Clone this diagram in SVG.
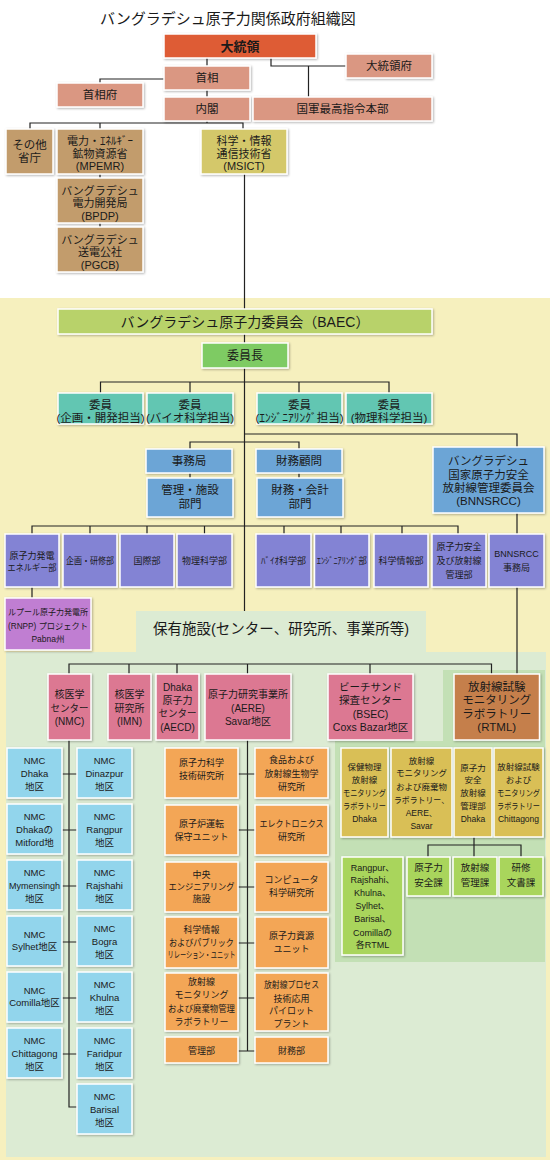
<svg xmlns="http://www.w3.org/2000/svg" width="550" height="1160" viewBox="0 0 550 1160">
<defs>
<filter id="sh" x="-10%" y="-10%" width="130%" height="130%"><feDropShadow dx="1" dy="1" stdDeviation="0.8" flood-color="#000" flood-opacity="0.3"/></filter>
<style>
.n{stroke:#fff;stroke-width:1.5;filter:url(#sh)}
text{font-family:"Liberation Sans","Noto Sans CJK JP","Noto Sans CJK SC",sans-serif;text-anchor:middle;fill:#1a1a1a}
.c{fill:none;stroke:#222;stroke-width:1.2}
.f85{font-size:8.5px}.f9{font-size:9px}.f95{font-size:9.5px}.f10{font-size:10px}.f105{font-size:10.5px}
.f11{font-size:11px}.f115{font-size:11.5px}.f12{font-size:12px}.f13{font-size:13px}.f14{font-size:14px}
.red{fill:#DE5B35}.sal{fill:#DA9782}.tan{fill:#C29C6C}.ms{fill:#D4C86A}.baec{fill:#B8D26A}.chair{fill:#7ECB63}
.teal{fill:#62C6B2}.blue{fill:#6CA5D6}.pur{fill:#8383D4}.orc{fill:#C07ED2}.pink{fill:#DC7892}.brn{fill:#C57F4B}
.lb{fill:#92D5EC}.org{fill:#F3A656}.gold{fill:#D9BF57}.lime{fill:#A9D55B}
</style>
</defs>
<rect width="550" height="1160" fill="#fff"/>
<g id="backgrounds">
<rect x="0" y="298" width="550" height="862" fill="#F6F0BE"/>
<rect x="6" y="652" width="540" height="505" fill="#DCEBD3"/>
<rect x="136" y="611" width="290" height="42" fill="#DCEBD3"/>
<path d="M443,670H545V962H335V741H443Z" fill="#C3E0B5"/>
</g>
<text x="228" y="24" style="font-size:15px">バングラデシュ原子力関係政府組織図</text>
<g id="connectors" class="c">
<path d="M207,58V66M207,90V97M164,79H100V83M271,58V66H346M308.5,66V97"/>
<path d="M207,121V123M30,129V123H243V129M100,123V129M100,174V178M100,223V227"/>
<path d="M244.5,174V309M244.5,334V343M244.5,368V611"/>
<path d="M100.5,393V382H389V393M190,382V393M299,382V393"/>
<path d="M190,449V442H299V449M190,473V478M299,473V478"/>
<path d="M244.5,434H517V447M517,513V534M517,587V674"/>
<path d="M32,534V526H458V534M90,526V534M147,526V534M204.5,526V534M284,526V534M341,526V534M402,526V534M32,587V598"/>
<path d="M69,674V664H491.5V674M129,664V674M177,664V674M247.5,664V674M370,664V674"/>
<path d="M69,740V1107H77M62,774H77M62,830H77M62,886H77M62,942H77M62,998H77M62,1054H77"/>
<path d="M247.5,740V1051M238,774H255M238,830H255M238,887H255M238,943H255M238,998H255M238,1051H255"/>
<path d="M474,837V857M428,857V845H521V857"/>
</g>
<g id="president"><rect class="n red" x="164" y="34" width="152" height="24"/><text class="f13" x="240" y="50.7" font-weight="bold">大統領</text></g>
<g id="pres-office"><rect class="n sal" x="346" y="54" width="86" height="24"/><text class="f115" x="389" y="70.1">大統領府</text></g>
<g id="pm"><rect class="n sal" x="164" y="66" width="86" height="24"/><text class="f115" x="207" y="82.1">首相</text></g>
<g id="pm-office"><rect class="n sal" x="57" y="83" width="86" height="24"/><text class="f115" x="100" y="99.1">首相府</text></g>
<g id="cabinet"><rect class="n sal" x="164" y="97" width="86" height="24"/><text class="f115" x="207" y="113.1">内閣</text></g>
<g id="armed"><rect class="n sal" x="253" y="97" width="179" height="24"/><text class="f115" x="342.5" y="113.1">国軍最高指令本部</text></g>

<g id="other"><rect class="n tan" x="6" y="129" width="47" height="45"/><text class="f115"><tspan x="29.5" y="149">その他</tspan><tspan x="29.5" y="162">省庁</tspan></text></g>
<g id="mpemr"><rect class="n tan" x="57" y="129" width="86" height="45"/><text class="f11"><tspan x="100" y="145">電力・ｴﾈﾙｷﾞｰ</tspan><tspan x="100" y="157.5">鉱物資源省</tspan><tspan x="100" y="170">(MPEMR)</tspan></text></g>
<g id="bpdp"><rect class="n tan" x="57" y="178" width="86" height="45"/><text class="f11"><tspan x="100" y="194.5">バングラデシュ</tspan><tspan x="100" y="207">電力開発局</tspan><tspan x="100" y="219.5">(BPDP)</tspan></text></g>
<g id="pgcb"><rect class="n tan" x="57" y="227" width="86" height="45"/><text class="f11"><tspan x="100" y="243.5">バングラデシュ</tspan><tspan x="100" y="256">送電公社</tspan><tspan x="100" y="268.5">(PGCB)</tspan></text></g>
<g id="msict"><rect class="n ms" x="201" y="129" width="86" height="45"/><text class="f11"><tspan x="244" y="145">科学・情報</tspan><tspan x="244" y="157.5">通信技術省</tspan><tspan x="244" y="170">(MSICT)</tspan></text></g>

<g id="baec"><rect class="n baec" x="58" y="309" width="374" height="25"/><text class="f14" x="245" y="326.5">バングラデシュ原子力委員会（BAEC）</text></g>
<g id="chair"><rect class="n chair" x="202" y="343" width="86" height="25"/><text class="f12" x="245" y="359.8">委員長</text></g>
<g id="m1"><rect class="n teal" x="58" y="393" width="85" height="31"/><text class="f115"><tspan x="100.5" y="409.1">委員</tspan><tspan x="100.5" y="422.1">(企画・開発担当)</tspan></text></g>
<g id="m2"><rect class="n teal" x="147" y="393" width="86" height="31"/><text class="f115"><tspan x="190" y="409.1">委員</tspan><tspan x="190" y="422.1">(バイオ科学担当)</tspan></text></g>
<g id="m3"><rect class="n teal" x="257" y="393" width="85" height="31"/><text class="f115"><tspan x="299.5" y="409.1">委員</tspan><tspan x="299.5" y="422.1">(ｴﾝｼﾞﾆｱﾘﾝｸﾞ担当)</tspan></text></g>
<g id="m4"><rect class="n teal" x="346" y="393" width="86" height="31"/><text class="f115"><tspan x="389" y="409.1">委員</tspan><tspan x="389" y="422.1">(物理科学担当)</tspan></text></g>

<g id="secretariat"><rect class="n blue" x="146" y="449" width="86" height="24"/><text class="f115" x="189" y="465.1">事務局</text></g>
<g id="admin"><rect class="n blue" x="147" y="478" width="86" height="39"/><text class="f115"><tspan x="190" y="494.1">管理・施設</tspan><tspan x="190" y="508.1">部門</tspan></text></g>
<g id="finadv"><rect class="n blue" x="256" y="449" width="86" height="24"/><text class="f115" x="299" y="465.1">財務顧問</text></g>
<g id="finance"><rect class="n blue" x="257" y="478" width="86" height="39"/><text class="f115"><tspan x="300" y="494.1">財務・会計</tspan><tspan x="300" y="508.1">部門</tspan></text></g>
<g id="bnnsrcc"><rect class="n blue" x="433" y="447" width="111" height="66"/><text class="f115"><tspan x="488.5" y="465.1">バングラデシュ</tspan><tspan x="488.5" y="479.1">国家原子力安全</tspan><tspan x="488.5" y="492.1">放射線管理委員会</tspan><tspan x="488.5" y="505.1">(BNNSRCC)</tspan></text></g>

<g id="d1"><rect class="n pur" x="5" y="534" width="54" height="53"/><text class="f9"><tspan x="32" y="559.2">原子力発電</tspan><tspan x="32" y="571.2" textLength="49" lengthAdjust="spacingAndGlyphs">エネルギー部</tspan></text></g>
<g id="d2"><rect class="n pur" x="63" y="534" width="54" height="53"/><text class="f9" x="90" y="563.7" textLength="48" lengthAdjust="spacingAndGlyphs">企画・研修部</text></g>
<g id="d3"><rect class="n pur" x="120" y="534" width="54" height="53"/><text class="f9" x="147" y="563.7">国際部</text></g>
<g id="d4"><rect class="n pur" x="177" y="534" width="55" height="53"/><text class="f9" x="204.5" y="563.7">物理科学部</text></g>
<g id="d5"><rect class="n pur" x="256" y="534" width="55" height="53"/><text class="f9" x="283.5" y="563.7">ﾊﾞｲｵ科学部</text></g>
<g id="d6"><rect class="n pur" x="314.5" y="534" width="54.5" height="53"/><text class="f9" x="341.75" y="563.7" textLength="50" lengthAdjust="spacingAndGlyphs">ｴﾝｼﾞﾆｱﾘﾝｸﾞ部</text></g>
<g id="d7"><rect class="n pur" x="374" y="534" width="54" height="53"/><text class="f9" x="401" y="563.7">科学情報部</text></g>
<g id="d8"><rect class="n pur" x="432" y="534" width="54" height="53"/><text class="f9"><tspan x="459" y="549.6">原子力安全</tspan><tspan x="459" y="564.2">及び放射線</tspan><tspan x="459" y="578.2">管理部</tspan></text></g>
<g id="d9"><rect class="n pur" x="489" y="534" width="55" height="53"/><text class="f9"><tspan x="516.5" y="556.7">BNNSRCC</tspan><tspan x="516.5" y="570.8">事務局</tspan></text></g>
<g id="rnpp"><rect class="n orc" x="5" y="598" width="86" height="52"/><text class="f85"><tspan x="48" y="615.1" textLength="80" lengthAdjust="spacingAndGlyphs">ルプール原子力発電所</tspan><tspan x="48" y="629.1" textLength="80" lengthAdjust="spacingAndGlyphs">(RNPP) プロジェクト</tspan><tspan x="48" y="642.1">Pabna州</tspan></text></g>

<g id="facilities-label"><text style="font-size:14.5px" x="281" y="634.2">保有施設(センター、研究所、事業所等)</text></g>

<g id="nmc"><rect class="n pink" x="48" y="674" width="43" height="66"/><text class="f10"><tspan x="69.5" y="698.3">核医学</tspan><tspan x="69.5" y="711.6" textLength="38" lengthAdjust="spacingAndGlyphs">センター</tspan><tspan x="69.5" y="724.6">(NMC)</tspan></text></g>
<g id="imn"><rect class="n pink" x="108" y="674" width="43" height="66"/><text class="f10"><tspan x="129.5" y="698.3">核医学</tspan><tspan x="129.5" y="711.6">研究所</tspan><tspan x="129.5" y="724.6">(IMN)</tspan></text></g>
<g id="aecd"><rect class="n pink" x="156" y="674" width="43" height="66"/><text class="f10"><tspan x="177.5" y="690.6">Dhaka</tspan><tspan x="177.5" y="703.6">原子力</tspan><tspan x="177.5" y="717.3" textLength="38" lengthAdjust="spacingAndGlyphs">センター</tspan><tspan x="177.5" y="730.6">(AECD)</tspan></text></g>
<g id="aere"><rect class="n pink" x="205" y="674" width="86" height="66"/><text class="f10"><tspan x="248" y="698.3">原子力研究事業所</tspan><tspan x="248" y="711.6">(AERE)</tspan><tspan x="248" y="724.6">Savar地区</tspan></text></g>
<g id="bsec"><rect class="n pink" x="328" y="674" width="85" height="66"/><text class="f105"><tspan x="370.5" y="690.8">ビーチサンド</tspan><tspan x="370.5" y="703.8">探査センター</tspan><tspan x="370.5" y="717.5">(BSEC)</tspan><tspan x="370.5" y="730.8">Coxs Bazar地区</tspan></text></g>
<g id="rtml"><rect class="n brn" x="454" y="674" width="85.5" height="66"/><text class="f115"><tspan x="496.75" y="691.1">放射線試験</tspan><tspan x="496.75" y="704.1">モニタリング</tspan><tspan x="496.75" y="717.8">ラボラトリー</tspan><tspan x="496.75" y="731.1">(RTML)</tspan></text></g>

<g id="nmc-dhaka"><rect class="n lb" x="7" y="748" width="55" height="50"/><text class="f95"><tspan x="34.5" y="764.1">NMC</tspan><tspan x="34.5" y="777.1">Dhaka</tspan><tspan x="34.5" y="790.1">地区</tspan></text></g>
<g id="nmc-mitford"><rect class="n lb" x="7" y="804" width="55" height="50"/><text class="f95"><tspan x="34.5" y="820.1">NMC</tspan><tspan x="34.5" y="833.1">Dhakaの</tspan><tspan x="34.5" y="846.1">Mitford地</tspan></text></g>
<g id="nmc-mymensingh"><rect class="n lb" x="7" y="860" width="55" height="50"/><text class="f95"><tspan x="34.5" y="876.1">NMC</tspan><tspan x="34.5" y="889.1" textLength="51" lengthAdjust="spacingAndGlyphs">Mymensingh</tspan><tspan x="34.5" y="902.1">地区</tspan></text></g>
<g id="nmc-sylhet"><rect class="n lb" x="7" y="916" width="55" height="50"/><text class="f95"><tspan x="34.5" y="937.9">NMC</tspan><tspan x="34.5" y="950.4">Sylhet地区</tspan></text></g>
<g id="nmc-comilla"><rect class="n lb" x="7" y="972" width="55" height="50"/><text class="f95"><tspan x="34.5" y="993.9">NMC</tspan><tspan x="34.5" y="1006.4">Comilla地区</tspan></text></g>
<g id="nmc-chittagong"><rect class="n lb" x="7" y="1028" width="55" height="50"/><text class="f95"><tspan x="34.5" y="1044.1">NMC</tspan><tspan x="34.5" y="1057.1">Chittagong</tspan><tspan x="34.5" y="1070.1">地区</tspan></text></g>
<g id="nmc-dinazpur"><rect class="n lb" x="77" y="748" width="55" height="50"/><text class="f95"><tspan x="104.5" y="764.1">NMC</tspan><tspan x="104.5" y="777.1">Dinazpur</tspan><tspan x="104.5" y="790.1">地区</tspan></text></g>
<g id="nmc-rangpur"><rect class="n lb" x="77" y="804" width="55" height="50"/><text class="f95"><tspan x="104.5" y="820.1">NMC</tspan><tspan x="104.5" y="833.1">Rangpur</tspan><tspan x="104.5" y="846.1">地区</tspan></text></g>
<g id="nmc-rajshahi"><rect class="n lb" x="77" y="860" width="55" height="50"/><text class="f95"><tspan x="104.5" y="876.1">NMC</tspan><tspan x="104.5" y="889.1">Rajshahi</tspan><tspan x="104.5" y="902.1">地区</tspan></text></g>
<g id="nmc-bogra"><rect class="n lb" x="77" y="916" width="55" height="50"/><text class="f95"><tspan x="104.5" y="932.1">NMC</tspan><tspan x="104.5" y="945.1">Bogra</tspan><tspan x="104.5" y="958.1">地区</tspan></text></g>
<g id="nmc-khulna"><rect class="n lb" x="77" y="972" width="55" height="50"/><text class="f95"><tspan x="104.5" y="988.1">NMC</tspan><tspan x="104.5" y="1001.1">Khulna</tspan><tspan x="104.5" y="1014.1">地区</tspan></text></g>
<g id="nmc-faridpur"><rect class="n lb" x="77" y="1028" width="55" height="50"/><text class="f95"><tspan x="104.5" y="1044.1">NMC</tspan><tspan x="104.5" y="1057.1">Faridpur</tspan><tspan x="104.5" y="1070.1">地区</tspan></text></g>
<g id="nmc-barisal"><rect class="n lb" x="77" y="1084" width="55" height="50"/><text class="f95"><tspan x="104.5" y="1100.1">NMC</tspan><tspan x="104.5" y="1113.1">Barisal</tspan><tspan x="104.5" y="1126.1">地区</tspan></text></g>

<g id="aere-1"><rect class="n org" x="165" y="748" width="73" height="50"/><text class="f9"><tspan x="201.5" y="765.9">原子力科学</tspan><tspan x="201.5" y="778.9">技術研究所</tspan></text></g>
<g id="aere-2"><rect class="n org" x="165" y="805" width="73" height="50"/><text class="f9"><tspan x="201.5" y="826.5">原子炉運転</tspan><tspan x="201.5" y="839.9">保守ユニット</tspan></text></g>
<g id="aere-3"><rect class="n org" x="165" y="862" width="73" height="50"/><text class="f9"><tspan x="201.5" y="877.5">中央</tspan><tspan x="201.5" y="889.9" textLength="66" lengthAdjust="spacingAndGlyphs">エンジニアリング</tspan><tspan x="201.5" y="902.2">施設</tspan></text></g>
<g id="aere-4"><rect class="n org" x="165" y="917" width="73" height="51"/><text class="f9"><tspan x="201.5" y="933.2">科学情報</tspan><tspan x="201.5" y="945.9" textLength="65" lengthAdjust="spacingAndGlyphs">およびパブリック</tspan><tspan x="201.5" y="958.2" textLength="68" lengthAdjust="spacingAndGlyphs">リレーション・ユニット</tspan></text></g>
<g id="aere-5"><rect class="n org" x="165" y="973" width="73" height="58"/><text class="f9"><tspan x="201.5" y="984.9">放射線</tspan><tspan x="201.5" y="998.2">モニタリング</tspan><tspan x="201.5" y="1011.5" textLength="67" lengthAdjust="spacingAndGlyphs">および廃棄物管理</tspan><tspan x="201.5" y="1024.9">ラボラトリー</tspan></text></g>
<g id="aere-6"><rect class="n org" x="165" y="1037" width="73" height="26"/><text class="f9" x="201.5" y="1054.2">管理部</text></g>
<g id="aere-7"><rect class="n org" x="255" y="748" width="73" height="50"/><text class="f9"><tspan x="291.5" y="763.2">食品および</tspan><tspan x="291.5" y="776.5">放射線生物学</tspan><tspan x="291.5" y="789.9">研究所</tspan></text></g>
<g id="aere-8"><rect class="n org" x="255" y="805" width="73" height="50"/><text class="f9"><tspan x="291.5" y="826.5" textLength="64" lengthAdjust="spacingAndGlyphs">エレクトロニクス</tspan><tspan x="291.5" y="839.9">研究所</tspan></text></g>
<g id="aere-9"><rect class="n org" x="255" y="862" width="73" height="50"/><text class="f9"><tspan x="291.5" y="882.5">コンピュータ</tspan><tspan x="291.5" y="895.9">科学研究所</tspan></text></g>
<g id="aere-10"><rect class="n org" x="255" y="917" width="73" height="51"/><text class="f9"><tspan x="291.5" y="938.9">原子力資源</tspan><tspan x="291.5" y="951.5">ユニット</tspan></text></g>
<g id="aere-11"><rect class="n org" x="255" y="973" width="73" height="58"/><text class="f9"><tspan x="291.5" y="988.2" textLength="55" lengthAdjust="spacingAndGlyphs">放射線プロセス</tspan><tspan x="291.5" y="1001.5">技術応用</tspan><tspan x="291.5" y="1013.9">パイロット</tspan><tspan x="291.5" y="1026.5">プラント</tspan></text></g>
<g id="aere-12"><rect class="n org" x="255" y="1037" width="73" height="26"/><text class="f9" x="291.5" y="1054.2">財務部</text></g>

<g id="rtml-1"><rect class="n gold" x="341" y="748" width="47" height="89"/><text class="f85"><tspan x="364.5" y="769.8">保健物理</tspan><tspan x="364.5" y="783.1">放射線</tspan><tspan x="364.5" y="795.8" textLength="43" lengthAdjust="spacingAndGlyphs">モニタリング</tspan><tspan x="364.5" y="809.1" textLength="43" lengthAdjust="spacingAndGlyphs">ラボラトリー</tspan><tspan x="364.5" y="822.1">Dhaka</tspan></text></g>
<g id="rtml-2"><rect class="n gold" x="391" y="748" width="61" height="89"/><text class="f85"><tspan x="421.5" y="763.8">放射線</tspan><tspan x="421.5" y="776.4">モニタリング</tspan><tspan x="421.5" y="789.8">および廃棄物</tspan><tspan x="421.5" y="803.1" textLength="55" lengthAdjust="spacingAndGlyphs">ラボラトリー、</tspan><tspan x="421.5" y="815.8">AERE、</tspan><tspan x="421.5" y="828.8">Savar</tspan></text></g>
<g id="rtml-3"><rect class="n gold" x="454" y="748" width="38" height="89"/><text class="f85"><tspan x="473" y="770.8">原子力</tspan><tspan x="473" y="783.1">安全</tspan><tspan x="473" y="796.1">放射線</tspan><tspan x="473" y="809.1">管理部</tspan><tspan x="473" y="822.1">Dhaka</tspan></text></g>
<g id="rtml-4"><rect class="n gold" x="494" y="748" width="49" height="89"/><text class="f85"><tspan x="518.5" y="769.8">放射線試験</tspan><tspan x="518.5" y="783.1">および</tspan><tspan x="518.5" y="796.1" textLength="43" lengthAdjust="spacingAndGlyphs">モニタリング</tspan><tspan x="518.5" y="809.1" textLength="43" lengthAdjust="spacingAndGlyphs">ラボラトリー</tspan><tspan x="518.5" y="822.1">Chittagong</tspan></text></g>
<g id="rtml-regional"><rect class="n lime" x="342" y="857" width="61" height="98"/><text class="f9"><tspan x="372.5" y="870.5">Rangpur、</tspan><tspan x="372.5" y="883.2">Rajshahi、</tspan><tspan x="372.5" y="895.9">Khulna、</tspan><tspan x="372.5" y="908.9">Sylhet、</tspan><tspan x="372.5" y="922.2">Barisal、</tspan><tspan x="372.5" y="935.5">Comillaの</tspan><tspan x="372.5" y="947.5">各RTML</tspan></text></g>
<g id="rtml-safety"><rect class="n lime" x="407" y="857" width="43" height="39"/><text class="f95"><tspan x="428.5" y="871.4">原子力</tspan><tspan x="428.5" y="886.4">安全課</tspan></text></g>
<g id="rtml-radiation"><rect class="n lime" x="453" y="857" width="44" height="39"/><text class="f95"><tspan x="475" y="871.4">放射線</tspan><tspan x="475" y="886.4">管理課</tspan></text></g>
<g id="rtml-training"><rect class="n lime" x="499" y="857" width="44" height="39"/><text class="f95"><tspan x="521" y="871.4">研修</tspan><tspan x="521" y="886.4">文書課</tspan></text></g>
</svg>
